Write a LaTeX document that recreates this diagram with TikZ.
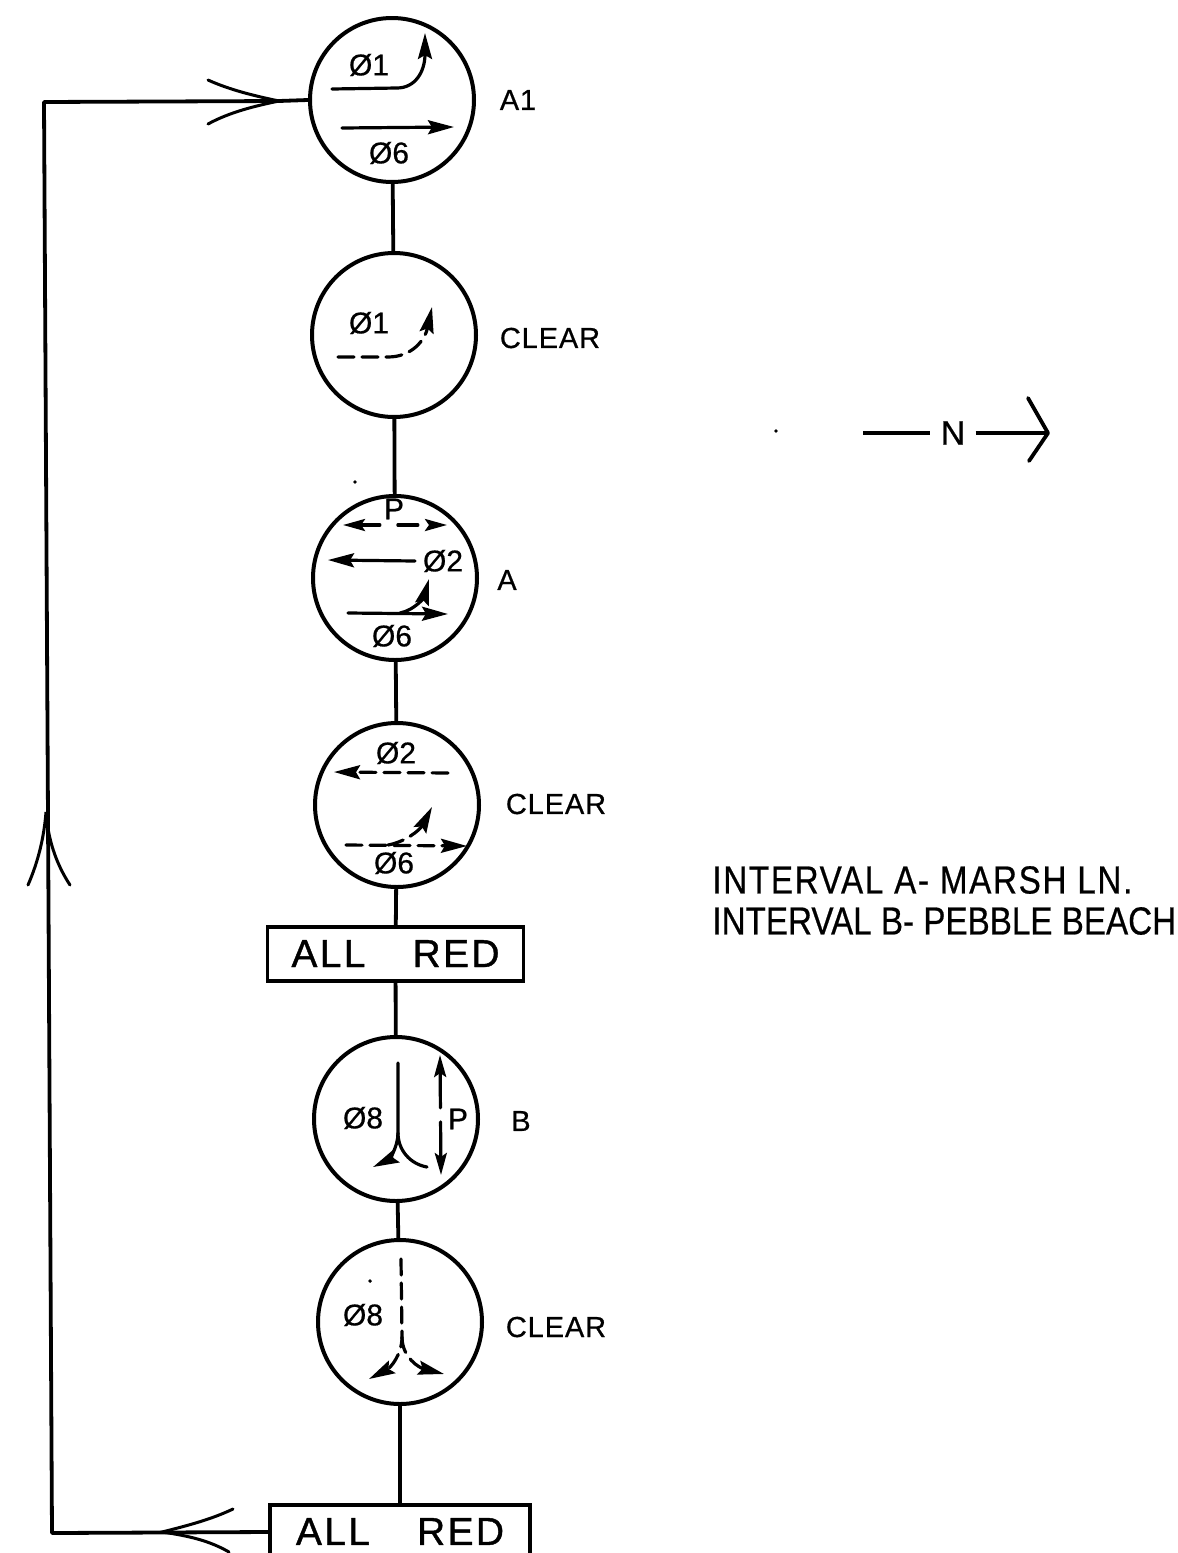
\documentclass[tikz,border=0pt]{standalone}
\usepackage{fontspec}
\setmainfont{Liberation Sans}[FakeBold=0.6]
\newfontfamily\wideletters{Liberation Sans}[LetterSpace=6, FakeBold=1]
\newfontfamily\sideletters{Liberation Sans}[LetterSpace=3, FakeBold=0.6]
\usetikzlibrary{arrows.meta}

\begin{document}
\begin{tikzpicture}[x=0.5pt, y=-0.5pt,
    phase/.style={draw, circle, line width=2pt, minimum size=82pt, inner sep=0pt},
    allred/.style={draw, line width=1.9pt, minimum width=128pt, inner ysep=7pt, inner xsep=0pt,
        text height=13pt, font=\fontsize{19.5}{20}\wideletters},
    link/.style={line width=1.9pt},
    flow/.style={line width=1.6pt, line cap=round},
    dashflow/.style={flow, dash pattern=on 8pt off 4pt},
    tip/.style={-{Stealth[length=13pt, width=7pt, inset=2pt]}},
    twotip/.style={{Stealth[length=11pt, width=6pt, inset=2pt]}-{Stealth[length=11pt, width=6pt, inset=2pt]}},
    barb/.style={line width=1.5pt, line cap=round},
    speck/.style={circle, fill, inner sep=0.7pt},
    insidetext/.style={inner sep=0pt, font=\fontsize{15}{15}\selectfont},
    sidetext/.style={inner sep=0pt, font=\fontsize{14.5}{15}\sideletters},
    legend/.style={anchor=west, inner sep=0pt, font=\fontsize{16.6}{17}\selectfont}]
    \useasboundingbox (0, 0) rectangle (1178, 1553);
    \clip (0, 0) rectangle (1178, 1553);
    % Circles
    \node (a1) [phase] at (392, 100) {};
    \node (clear1) [phase] at (394, 335) {};
    \node (a) [phase] at (395, 578) {};
    \node (clear2) [phase] at (397, 805) {};
    \node (b) [phase] at (396, 1119) {};
    \node (clear3) [phase] at (400, 1322) {};
    % Boxes
    \node (red1) [allred] at (395.5, 954) {ALL\hspace{23.5pt}RED\hspace{9pt}};
    \node (red2) [allred, anchor=north, minimum width=130pt, text depth=16pt] at (400, 1503) {ALL\hspace{23.5pt}RED\hspace{9pt}};
    % Side labels
    \node (labela1) [sidetext] at (518, 100) {A1};
    \node (labelc1) [sidetext] at (550, 338) {CLEAR};
    \node (labela) [sidetext] at (507, 580) {A};
    \node (labelc2) [sidetext] at (556, 804) {CLEAR};
    \node (labelb) [sidetext] at (521, 1121) {B};
    \node (labelc3) [sidetext] at (556, 1327) {CLEAR};
    % Column
    \draw [link] (a1) -- (clear1);
    \draw [link] (clear1) -- (a);
    \draw [link] (a) -- (clear2);
    \draw [link] (clear2) -- (red1);
    \draw [link] (red1) -- (b);
    \draw [link] (b) -- (clear3);
    \draw [link] (clear3) -- (clear3 |- red2.north);
    % Return line
    \coordinate (topleft) at (44, 102);
    \coordinate (botleft) at (52, 1533);
    \coordinate (toptip) at (279, 101);
    \coordinate (midtip) at (46, 812);
    \coordinate (bottip) at (162, 1532);
    \draw [link, line join=round] (red2.west |- bottip) -- (botleft) -- (topleft) -- (toptip) -- (a1.west);
    % Return arrowheads
    \draw [barb] (208, 80) .. controls (230, 90) and (255, 96) .. (toptip) .. controls (255, 106) and (230, 112) .. (208, 124);
    \draw [barb] (28, 885) .. controls (38, 862) and (44, 838) .. (midtip) .. controls (48, 838) and (55, 862) .. (70, 885);
    \draw [barb] (233, 1509) .. controls (212, 1519) and (190, 1525) .. (bottip) .. controls (190, 1536) and (210, 1541) .. (229, 1552);
    % A1
    \node (a1p1) [insidetext] at (369, 65) {Ø1};
    \node (a1p6) [insidetext] at (389, 153) {Ø6};
    \draw [flow, tip] (332, 89) -- (397, 88) .. controls (415, 88) and (425, 72) .. (425, 33);
    \draw [flow, tip] (342, 128) -- (454, 127);
    % Clear after A1
    \node (c1p1) [insidetext] at (369, 323) {Ø1};
    \draw [dashflow, tip] (338, 357) -- (388, 357) .. controls (412, 357) and (425, 340) .. (432, 307);
    % A
    \node (ap) [insidetext] at (394, 509) {P};
    \node (ap2) [insidetext] at (443, 561) {Ø2};
    \node (ap6) [insidetext] at (392, 636) {Ø6};
    \draw [flow, twotip, dash pattern=on 10pt off 9pt] (343, 525) -- (447, 525);
    \draw [flow, tip] (415, 561) -- (328, 560);
    \draw [flow, tip] (348, 613) -- (448, 614);
    \draw [flow, tip] (400, 613) .. controls (415, 610) and (424, 597) .. (429, 579);
    % Clear after A
    \node (c2p2) [insidetext] at (396, 753) {Ø2};
    \node (c2p6) [insidetext] at (394, 863) {Ø6};
    \draw [dashflow, tip] (448, 773) -- (334, 772);
    \draw [dashflow, tip] (346, 845) -- (467, 846);
    \draw [dashflow, tip] (388, 845) .. controls (405, 842) and (420, 830) .. (432, 807);
    % B
    \node (bp8) [insidetext] at (363, 1118) {Ø8};
    \node (bp) [insidetext] at (458, 1119) {P};
    \draw [flow, tip] (398, 1063) -- (398, 1133) .. controls (398, 1148) and (388, 1160) .. (373, 1167);
    \draw [flow] (398, 1133) .. controls (398, 1150) and (410, 1164) .. (427, 1167);
    \draw [flow, twotip, dash pattern=on 18pt off 7pt] (440, 1055) -- (441, 1175);
    % Clear after B
    \node (c3p8) [insidetext] at (363, 1315) {Ø8};
    \draw [dashflow, tip] (401, 1259) -- (402, 1337) .. controls (402, 1355) and (390, 1368) .. (369, 1379);
    \draw [dashflow, tip] (402, 1337) .. controls (402, 1358) and (420, 1368) .. (444, 1374);
    % North arrow
    \node (north) [inner sep=5pt, font=\fontsize{17}{17}\selectfont] at (953, 433) {N};
    \coordinate (northstart) at (863, 433);
    \coordinate (northtip) at (1048, 433);
    \draw [link] (northstart) -- (north);
    \draw [link] (north) -- (northtip);
    \draw [link, line cap=round, line join=round] (1028, 398) -- (northtip) -- (1029, 461);
    % Specks
    \node (speck1) [speck] at (355, 482) {};
    \node (speck2) [speck] at (370, 1281) {};
    \node (speck3) [speck] at (776, 431) {};
    % Intervals
    \node (intervala) [legend] at (712, 880) {\addfontfeature{LetterSpace=5}\scalebox{1}[1.18]{INTERVAL A- MARSH LN.}};
    \node (intervalb) [legend] at (712, 921) {\scalebox{1}[1.18]{INTERVAL B- PEBBLE BEACH}};
\end{tikzpicture}
\end{document}
